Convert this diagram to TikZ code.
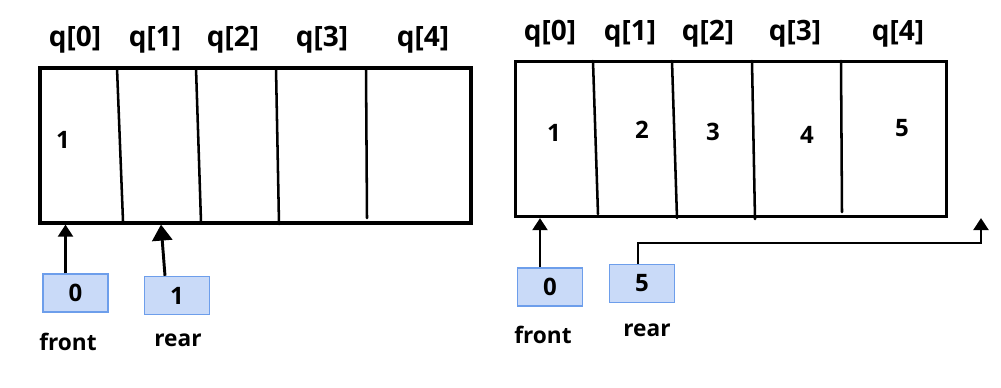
\documentclass[tikz,border=0pt]{standalone}
\usepackage{fontspec}
\setmainfont{Open Sans}
\usetikzlibrary{arrows.meta,calc}
\definecolor{boxfill}{HTML}{C9DAF8}
\definecolor{boxline}{HTML}{6D9EEB}
\begin{document}
\begin{tikzpicture}[x=0.75pt,y=-0.75pt,
  arr/.style={draw=black,line width=2.6pt,minimum width=323pt,minimum height=116pt,inner sep=0pt},
  divider/.style={line width=1.9pt,line cap=round},
  idx/.style={font=\fontsize{21}{24}\selectfont\bfseries},
  val/.style={font=\fontsize{18}{20}\selectfont\bfseries},
  varbox/.style={draw=boxline,fill=boxfill,line width=1.1pt,minimum width=49pt,minimum height=28.5pt,inner sep=0pt,font=\fontsize{18}{20}\selectfont\bfseries},
  varname/.style={font=\fontsize{17}{19}\selectfont\bfseries},
  ptr/.style={line width=2.2pt,-{Triangle[width=11pt,length=9pt]}},
  bigptr/.style={line width=2.2pt,-{Triangle[width=15pt,length=12pt]}}
]
\useasboundingbox (0,0) rectangle (1001,387);
% ---------- left panel ----------
\node[arr] (arrL) at (255.5,145.5) {};
\draw[divider] (117,68) -- (123,221);
\draw[divider] (196,68) -- (201,222);
\draw[divider] (276,68) -- (279,224);
\draw[divider] (366,68) -- (367,218);
\node[idx] (lq0) at (75,40) {q[0]};
\node[idx] (lq1) at (155,40) {q[1]};
\node[idx] (lq2) at (233,40) {q[2]};
\node[idx] (lq3) at (322,40) {q[3]};
\node[idx] (lq4) at (423,40) {q[4]};
\node[val] (lv0) at (63,140) {1};
\node[varbox] (frontL) at (75.5,293) {0};
\node[varbox] (rearL) at (177,295.5) {1};
\node[varname] (frontLt) at (68,342) {front};
\node[varname] (rearLt) at (178,340) {rear};
\coordinate (fLs) at ($(frontL.north)+(-10,0)$);
\coordinate (rLs) at ($(rearL.north)+(-12,0)$);
\coordinate (rLe) at ($(rearL.north)+(-16,0)$);
\draw[ptr] (fLs) -- (fLs |- arrL.south);
\draw[bigptr] (rLs) -- (rLe |- arrL.south);
% ---------- right panel ----------
\node[arr] (arrR) at (731,139) {};
\draw[divider] (593,61) -- (598,214);
\draw[divider] (672,61) -- (677,218);
\draw[divider] (752,61) -- (755,219);
\draw[divider] (841,61) -- (842,212);
\node[idx] (rq0) at (550,34) {q[0]};
\node[idx] (rq1) at (630,34) {q[1]};
\node[idx] (rq2) at (708,34) {q[2]};
\node[idx] (rq3) at (795,34) {q[3]};
\node[idx] (rq4) at (898,34) {q[4]};
\node[val] (rv0) at (554,133) {1};
\node[val] (rv1) at (642,130) {2};
\node[val] (rv2) at (713,132) {3};
\node[val] (rv3) at (807,135) {4};
\node[val] (rv4) at (902,128) {5};
\node[varbox] (frontR) at (550,287) {0};
\node[varbox] (rearR) at (642,283.5) {5};
\node[varname] (frontRt) at (543,335) {front};
\node[varname] (rearRt) at (647,330) {rear};
\coordinate (past) at (981,218);
\coordinate (fRs) at ($(frontR.north)+(-10,0)$);
\coordinate (rRs) at ($(rearR.north)+(-4,0)$);
\draw[ptr] (fRs) -- (fRs |- arrR.south);
\draw[ptr] (rRs) |- (past |- 0,243) -- (past);
\end{tikzpicture}
\end{document}
